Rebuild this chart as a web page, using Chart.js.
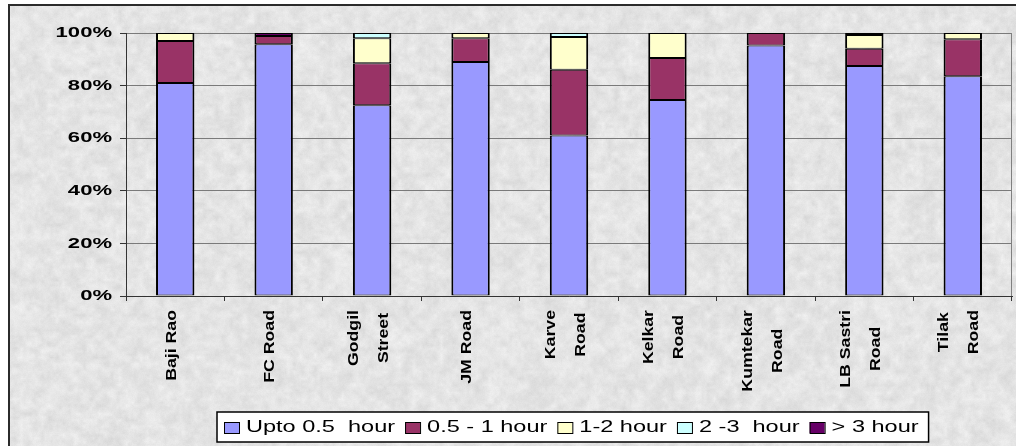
<!DOCTYPE html>
<html>
<head>
<meta charset="utf-8">
<script src="https://cdn.jsdelivr.net/npm/chart.js@4/dist/chart.umd.min.js"></script>
<style>
  html, body { margin: 0; padding: 0; background: #fff; }
  canvas { display: block; }
</style>
</head>
<body>
<canvas id="c" width="1016" height="446"></canvas>
<script>
// Road names (each entry is split into the lines it is printed on)
const categories = [
  ['Baji Rao'], ['FC Road'], ['Godgil', 'Street'], ['JM Road'], ['Karve', 'Road'],
  ['Kelkar', 'Road'], ['Kumtekar', 'Road'], ['LB Sastri', 'Road'], ['Tilak', 'Road']
];

// Share of parked vehicles by parking duration (%)
const uptoHalfHour   = [81.0, 95.7, 72.5, 89.0, 61.0, 74.5, 95.2, 87.5, 83.6];
const halfToOneHour  = [16.0,  3.2, 16.0,  9.0, 25.0, 16.0,  4.8,  6.5, 14.0];
const oneToTwoHours  = [ 3.0,  0.0,  9.5,  2.0, 12.5,  9.5,  0.0,  5.2,  2.4];
const twoToThreeHrs  = [ 0.0,  0.0,  2.0,  0.0,  1.5,  0.0,  0.0,  0.0,  0.0];
const overThreeHours = [ 0.0,  1.1,  0.0,  0.0,  0.0,  0.0,  0.0,  0.8,  0.0];

const seriesNames  = ['Upto 0.5  hour', '0.5 - 1 hour', '1-2 hour', '2 -3  hour', '> 3 hour'];
const seriesValues = [uptoHalfHour, halfToOneHour, oneToTwoHours, twoToThreeHrs, overThreeHours];
const seriesColors = ['#9999FF', '#993366', '#FFFFCC', '#CCFFFF', '#660066'];

// Value axis: 0% to 100% in steps of 20
const yMin = 0, yMax = 100, yStep = 20;
const yTickLabel = v => v + '%';

const W = 1016, H = 446;
const FONT = '"Liberation Sans", Arial, sans-serif';
const STRETCH = 1.47;   // text is drawn wide, as in the original sheet

// Light granite-like backdrop, built from a deterministic hash noise
function makeTexture() {
  const c = document.createElement('canvas');
  c.width = W; c.height = H;
  const g = c.getContext('2d');
  const img = g.createImageData(W, H);
  const hash = (x, y, s) => {
    let h = Math.imul(x, 374761393) ^ Math.imul(y, 668265263) ^ Math.imul(s, 2246822519);
    h = Math.imul(h ^ (h >>> 13), 1274126177);
    h ^= h >>> 16;
    return (h >>> 0) / 4294967295;
  };
  const smooth = (x, y, cell, s) => {
    const gx = x / cell, gy = y / cell;
    const x0 = Math.floor(gx), y0 = Math.floor(gy);
    const fx = gx - x0, fy = gy - y0;
    const a = hash(x0, y0, s), b = hash(x0 + 1, y0, s);
    const c2 = hash(x0, y0 + 1, s), d = hash(x0 + 1, y0 + 1, s);
    const top = a + (b - a) * fx, bot = c2 + (d - c2) * fx;
    return top + (bot - top) * fy;
  };
  for (let y = 0; y < H; y++) {
    for (let x = 0; x < W; x++) {
      const n = 0.55 * smooth(x, y, 7, 1) + 0.3 * smooth(x, y, 3, 2) + 0.15 * hash(x, y, 3);
      const v = Math.round(228 + (n - 0.5) * 30);
      const i = (y * W + x) * 4;
      img.data[i] = v; img.data[i + 1] = v; img.data[i + 2] = v; img.data[i + 3] = 255;
    }
  }
  g.putImageData(img, 0, 0);
  return c;
}
const texture = makeTexture();

function stretchedText(ctx, text, x, y, sx, sy) {
  ctx.save();
  ctx.translate(x, y);
  ctx.scale(sx, sy);
  ctx.fillText(text, 0, 0);
  ctx.restore();
}

const decor = {
  id: 'decor',
  beforeDraw(chart) {
    const ctx = chart.ctx;
    ctx.save();
    ctx.fillStyle = '#ffffff';
    ctx.fillRect(0, 0, W, H);
    ctx.drawImage(texture, 9, 5, W - 9, H - 5, 9, 5, W - 9, H - 5);
    ctx.strokeStyle = '#2b2b2b';
    ctx.lineWidth = 2;
    ctx.strokeRect(9, 5, W + 20, H + 20);
    ctx.restore();
  },
  beforeDatasetsDraw(chart) {
    // plot-area frame on the right side
    const ctx = chart.ctx, a = chart.chartArea;
    ctx.save();
    ctx.strokeStyle = '#808080';
    ctx.lineWidth = 1;
    ctx.beginPath();
    ctx.moveTo(Math.round(a.right) - 0.5, a.top);
    ctx.lineTo(Math.round(a.right) - 0.5, a.bottom);
    ctx.stroke();
    ctx.restore();
  },
  afterDraw(chart) {
    const ctx = chart.ctx;
    const xs = chart.scales.x, ys = chart.scales.y;
    ctx.save();
    ctx.fillStyle = '#000';

    // value axis labels
    ctx.font = 'bold 15px ' + FONT;
    ctx.textAlign = 'right';
    ctx.textBaseline = 'middle';
    ys.ticks.forEach(t => {
      stretchedText(ctx, yTickLabel(t.value), 112, ys.getPixelForValue(t.value), STRETCH, 1);
    });

    // category labels, rotated to read upward
    ctx.font = 'bold 15px ' + FONT;
    ctx.textBaseline = 'middle';
    ctx.textAlign = 'right';
    const along = 1.18, lineGap = 30, endY = 310;
    categories.forEach((lines, i) => {
      const cx = xs.getPixelForValue(i) - 3.5;
      const widths = lines.map(l => ctx.measureText(l).width);
      const maxW = Math.max(...widths);
      lines.forEach((line, j) => {
        const lx = cx + (j - (lines.length - 1) / 2) * lineGap;
        ctx.save();
        ctx.translate(lx, endY);
        ctx.rotate(-Math.PI / 2);
        ctx.scale(along, 1);
        ctx.fillText(line, -(maxW - widths[j]) / 2, 0);
        ctx.restore();
      });
    });

    // legend
    ctx.font = '16px ' + FONT;
    ctx.textAlign = 'left';
    ctx.textBaseline = 'middle';
    const boxL = 217, boxT = 412, boxB = 442, midY = 427.5;
    const items = [];
    let x = 224;
    chart.data.datasets.forEach(ds => {
      const tw = ctx.measureText(ds.label).width * STRETCH;
      items.push({ x, label: ds.label, color: ds.backgroundColor });
      x += 22 + tw + 10;
    });
    ctx.fillStyle = '#ffffff';
    ctx.fillRect(boxL, boxT, x - boxL, boxB - boxT);
    ctx.strokeStyle = '#000';
    ctx.lineWidth = 1.5;
    ctx.strokeRect(boxL, boxT, x - boxL, boxB - boxT);
    items.forEach(it => {
      ctx.fillStyle = it.color;
      ctx.fillRect(it.x, 422, 15, 11);
      ctx.lineWidth = 1;
      ctx.strokeStyle = '#000';
      ctx.strokeRect(it.x + 0.5, 422.5, 15, 11);
      ctx.fillStyle = '#000';
      stretchedText(ctx, it.label, it.x + 22, midY, STRETCH, 1);
    });
    ctx.restore();
  }
};

new Chart(document.getElementById('c'), {
  type: 'bar',
  data: {
    labels: categories,
    datasets: seriesNames.map((name, k) => ({
      label: name,
      data: seriesValues[k],
      backgroundColor: seriesColors[k],
      borderColor: '#000000',
      borderWidth: { top: 1, bottom: 1, left: 2, right: 2 },
      borderSkipped: false,
      categoryPercentage: 1.0,
      barPercentage: 0.39
    }))
  },
  options: {
    responsive: false,
    animation: false,
    devicePixelRatio: 1,
    layout: { padding: { top: 33, right: 4, left: 0, bottom: 0 } },
    plugins: {
      legend: { display: false },
      tooltip: { enabled: false },
      title: { display: false }
    },
    scales: {
      x: {
        stacked: true,
        offset: true,
        grid: {
          offset: true,
          drawOnChartArea: false,
          drawTicks: true,
          tickLength: 5,
          color: '#333333'
        },
        border: { display: true, color: '#333333', width: 1 },
        ticks: { display: false },
        afterFit(scale) { scale.height = 150; }
      },
      y: {
        stacked: true,
        min: yMin,
        max: yMax,
        ticks: { display: false, stepSize: yStep },
        grid: {
          color: '#7a7a7a',
          drawTicks: true,
          tickLength: 6,
          tickColor: '#333333'
        },
        border: { display: true, color: '#333333', width: 1 },
        afterFit(scale) { scale.width = 126; }
      }
    }
  },
  plugins: [decor]
});
</script>
</body>
</html>
